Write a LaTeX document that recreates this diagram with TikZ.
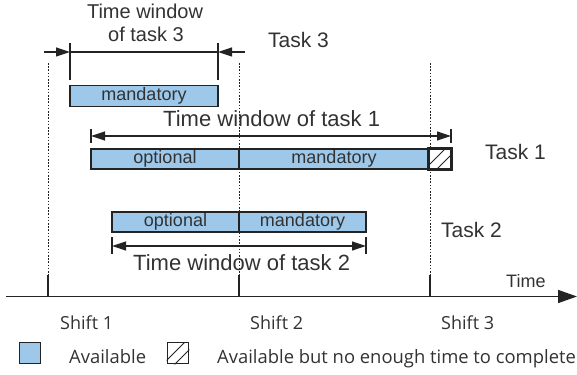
\documentclass[tikz,border=0pt]{standalone}
\usepackage{fontspec}
\setmainfont{Liberation Sans}
\newfontfamily\legendfont{Open Sans}
\usetikzlibrary{arrows.meta}
\definecolor{barblue}{RGB}{157,200,234}
\definecolor{ink}{RGB}{35,35,35}
\definecolor{txt}{RGB}{50,50,50}
\begin{document}
\begin{tikzpicture}[x=1pt,y=-1pt,
  every node/.style={text=txt, inner sep=0pt},
  bar/.style={draw=ink, line width=1.8pt, fill=barblue, minimum height=20pt,
    font=\fontsize{18}{18}\selectfont},
  hatchbox/.style={draw=ink, line width=1.8pt, fill=white, minimum height=20pt},
  winline/.style={draw=ink, line width=1.2pt},
  wintip/.style={winline, -{Triangle[length=14pt,width=9pt]}},
  winends/.style={winline, {Triangle[length=14pt,width=9pt]}-{Triangle[length=14pt,width=9pt]}},
  endbar/.style={draw=ink, line width=1.5pt},
  shiftline/.style={draw=ink, line width=0.8pt, dash pattern=on 1.6pt off 1.6pt},
  tick/.style={draw=ink, line width=1.5pt},
  bigtext/.style={font=\fontsize{21}{21}\selectfont, anchor=base west},
  wintext/.style={font=\fontsize{22}{22}\selectfont, anchor=base west},
  smalltext/.style={font=\legendfont\fontsize{18.4}{18.4}\selectfont, anchor=base west},
  hatch/.style={draw=ink, line width=0.9pt}
]
\useasboundingbox (0,0) rectangle (577,374);

% shift instants on the time axis
\coordinate (s1) at (48,296.5);
\coordinate (s2) at (239,296.5);
\coordinate (s3) at (430,296.5);
\coordinate (s1top) at (48,63);
\coordinate (s2top) at (239,63);
\coordinate (s3top) at (430,63);
\coordinate (s1tick) at (48,275);
\coordinate (s2tick) at (239,275);
\coordinate (s3tick) at (430,275);
\draw[shiftline] (s1top) -- (s1tick);
\draw[shiftline] (s2top) -- (s2tick);
\draw[shiftline] (s3top) -- (s3tick);

% time axis
\coordinate (axstart) at (6,296.5);
\coordinate (axend) at (577,296.5);
\draw[draw=ink, line width=1.5pt, -{Triangle[length=19pt,width=13pt]}] (axstart) -- (axend);
\draw[tick] (s1tick) -- (s1);
\draw[tick] (s2tick) -- (s2);
\draw[tick] (s3tick) -- (s3);
\node[bigtext, font=\fontsize{18}{18}\selectfont] (timelbl) at (506,287) {Time};

% task 3
\node[bar, minimum width=148pt, minimum height=21pt] (t3man) at (144,96) {mandatory};
\coordinate (w3la) at (70,43);  \coordinate (w3lb) at (70,80);
\coordinate (w3ra) at (218,43); \coordinate (w3rb) at (218,80);
\coordinate (w3l) at (70,52);   \coordinate (w3r) at (218,52);
\coordinate (w3lo) at (44,52);  \coordinate (w3ro) at (245,52);
\draw[endbar] (w3la) -- (w3lb);
\draw[endbar] (w3ra) -- (w3rb);
\draw[winline] (w3l) -- (w3r);
\draw[wintip] (w3lo) -- (w3l);
\draw[wintip] (w3ro) -- (w3r);
\node[font=\fontsize{20}{20}\selectfont, anchor=base] (tw3a) at (145,19) {Time window};
\node[font=\fontsize{20}{20}\selectfont, anchor=base] (tw3b) at (146,42) {of task 3};
\node[bigtext] (task3) at (268,48) {Task 3};

% task 1
\node[bar, minimum width=148pt] (t1opt) at (165,159) {optional};
\node[bar, minimum width=190pt] (t1man) at (334,159) {mandatory};
\node[hatchbox, minimum width=22pt] (t1hat) at (440,159) {};
\begin{scope}
  \clip (t1hat.south west) rectangle (t1hat.north east);
  \draw[hatch] ([xshift=-4pt]t1hat.south west) -- ++(20,-20);
  \draw[hatch] ([xshift=8pt]t1hat.south west) -- ++(20,-20);
\end{scope}
\draw[draw=ink, line width=1.8pt] (t1hat.south west) rectangle (t1hat.north east);
\coordinate (w1la) at (91,129);  \coordinate (w1lb) at (91,143);
\coordinate (w1ra) at (451,129); \coordinate (w1rb) at (451,143);
\coordinate (w1l) at (91,136);   \coordinate (w1r) at (451,136);
\draw[endbar] (w1la) -- (w1lb);
\draw[endbar] (w1ra) -- (w1rb);
\draw[winends] (w1l) -- (w1r);
\node[wintext] (tw1) at (163,127) {Time window of task 1};
\node[bigtext] (task1) at (485,159) {Task 1};

% task 2
\node[bar, minimum width=127pt] (t2opt) at (175.5,222) {optional};
\node[bar, minimum width=127pt] (t2man) at (302.5,222) {mandatory};
\coordinate (w2la) at (112,237); \coordinate (w2lb) at (112,254);
\coordinate (w2ra) at (366,237); \coordinate (w2rb) at (366,254);
\coordinate (w2l) at (112,246);  \coordinate (w2r) at (366,246);
\draw[endbar] (w2la) -- (w2lb);
\draw[endbar] (w2ra) -- (w2rb);
\draw[winends] (w2l) -- (w2r);
\node[wintext] (tw2) at (133,270) {Time window of task 2};
\node[bigtext] (task2) at (441,237) {Task 2};

% shift labels
\node[smalltext, font=\legendfont\fontsize{18}{18}\selectfont] (sh1) at (60,329) {Shift 1};
\node[smalltext, font=\legendfont\fontsize{18}{18}\selectfont] (sh2) at (250,329) {Shift 2};
\node[smalltext, font=\legendfont\fontsize{18}{18}\selectfont] (sh3) at (441,329) {Shift 3};

% legend
\node[draw=ink, line width=1.8pt, fill=barblue, minimum width=21pt, minimum height=21pt] (legav) at (30,353) {};
\node[smalltext] (legavt) at (69,363) {Available};
\node[draw=ink, line width=1.8pt, minimum width=21pt, minimum height=21pt] (leghat) at (178,353) {};
\begin{scope}
  \clip (leghat.south west) rectangle (leghat.north east);
  \draw[hatch] ([xshift=-4pt]leghat.south west) -- ++(22,-22);
  \draw[hatch] ([xshift=8pt]leghat.south west) -- ++(22,-22);
\end{scope}
\node[smalltext] (leghatt) at (217,363) {Available but no enough time to complete};
\end{tikzpicture}
\end{document}
